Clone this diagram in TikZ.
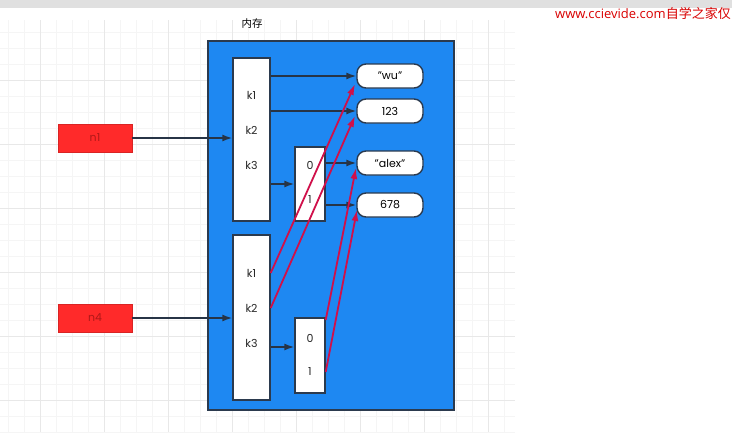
\documentclass[tikz,border=0pt]{standalone}
\usepackage{fontspec}
\setmainfont{Poppins}
\newfontfamily\cjk{Noto Sans CJK SC}
\newfontfamily\wmfont{Open Sans}
\usetikzlibrary{arrows.meta}
\definecolor{memblue}{HTML}{1E88F2}
\definecolor{edgec}{HTML}{2B3A4E}
\definecolor{nred}{HTML}{FF2A2A}
\definecolor{nredtxt}{HTML}{B01818}
\definecolor{arrred}{HTML}{D0104A}
\definecolor{gridminor}{HTML}{F5F5F5}
\definecolor{gridmajor}{HTML}{E8E8E8}
\tikzset{
  every node/.style={font=\fontsize{11}{13}\selectfont},
  mem/.style={draw=edgec, line width=1.8pt, fill=memblue},
  dictbox/.style={draw=edgec, line width=1.4pt, fill=white, minimum width=37pt, inner sep=0pt},
  listbox/.style={draw=edgec, line width=1.4pt, fill=white, minimum width=30pt, inner sep=0pt},
  valbox/.style={draw=edgec, line width=1.4pt, fill=white, rounded corners=9pt, minimum width=66pt, minimum height=24pt, inner sep=0pt},
  varbox/.style={fill=nred, draw=nred!85!black, line width=0.4pt, minimum width=74pt, minimum height=28pt, inner sep=0pt, text=nredtxt},
  blk/.style={draw=edgec!90!black, line width=1.5pt, -{Latex[length=10pt,width=7pt]}},
  redarr/.style={draw=arrred, line width=1.8pt, -{Latex[length=11pt,width=7pt]}},
  lbl/.style={inner sep=0pt, text=black!85}
}
\begin{document}
\begin{tikzpicture}[x=1pt,y=-1pt]
\useasboundingbox (0,0) rectangle (732,437);
\fill[white] (0,0) rectangle (732,437);
% grid
\foreach \gx in {8,24,...,512} \draw[gridminor, line width=0.5pt] (\gx,20) -- (\gx,432);
\foreach \gy in {32,48,...,432} \draw[gridminor, line width=0.5pt] (0,\gy) -- (515,\gy);
\foreach \gx in {40,104,...,488} \draw[gridmajor, line width=0.7pt] (\gx,20) -- (\gx,432);
\foreach \gy in {80,144,...,400} \draw[gridmajor, line width=0.7pt] (0,\gy) -- (515,\gy);
% top bar
\fill[black!12] (0,0) rectangle (732,8);
\node[anchor=east, text=red!85!black, inner sep=0pt, font=\fontsize{13}{15}\selectfont] (wm) at (731,14) {\wmfont www.ccievide.com\cjk 自学之家仅};
% memory
\node[anchor=center, inner sep=0pt, font=\cjk\fontsize{10.5}{12}\selectfont] (memlbl) at (252,24) {内存};
\draw[mem] (208,41) rectangle (454,410);
% upper dict and list
\node[dictbox, minimum height=163pt] (d1) at (251.5,139.5) {};
\node[lbl] (k1a) at (251.5,95) {k1};
\node[lbl] (k2a) at (251.5,130) {k2};
\node[lbl] (k3a) at (251.5,165) {k3};
\node[listbox, minimum height=74pt] (l1) at (310,184) {};
\node[lbl] (z1) at (310,165) {0};
\node[lbl] (o1) at (310,200) {1};
% lower dict and list
\node[dictbox, minimum height=165pt] (d2) at (251.5,317.5) {};
\node[lbl] (k1b) at (251.5,273) {k1};
\node[lbl] (k2b) at (251.5,308) {k2};
\node[lbl] (k3b) at (251.5,343) {k3};
\node[listbox, minimum height=75pt] (l2) at (310,355.5) {};
\node[lbl] (z2) at (310,338) {0};
\node[lbl] (o2) at (310,372) {1};
% values
\node[valbox] (wu) at (390,76) {"wu"};
\node[valbox] (v123) at (390,111) {123};
\node[valbox] (alex) at (390,163) {"alex"};
\node[valbox] (v678) at (390,205) {678};
% variables
\node[varbox] (n1) at (95,138) {n1};
\node[varbox] (n4) at (95,318) {n4};
% black connectors
\draw[blk] (n1.east) -- (n1.east -| d1.west);
\draw[blk] (n4.east) -- (n4.east -| d2.west);
\draw[blk] (d1.east |- wu.west) -- (wu.west);
\draw[blk] (d1.east |- v123.west) -- (v123.west);
\draw[blk] (d1.east |- l1.west) -- (l1.west);
\draw[blk] (l1.east |- alex.west) -- (alex.west);
\draw[blk] (l1.east |- v678.west) -- (v678.west);
\coordinate (k3bend) at (d2.east |- 0,347);
\draw[blk] (k3bend) -- (k3bend -| l2.west);
% red connectors
\coordinate (wuin) at (355,84);
\coordinate (v123in) at (355,116);
\coordinate (alexin) at (356,168);
\coordinate (v678in) at (357,210);
\draw[redarr] (d2.east |- k1b) -- (wuin);
\draw[redarr] (d2.east |- k2b) -- (v123in);
\draw[redarr] (l2.east |- 0,320) -- (alexin);
\draw[redarr] (l2.east |- o2) -- (v678in);
\end{tikzpicture}
\end{document}
